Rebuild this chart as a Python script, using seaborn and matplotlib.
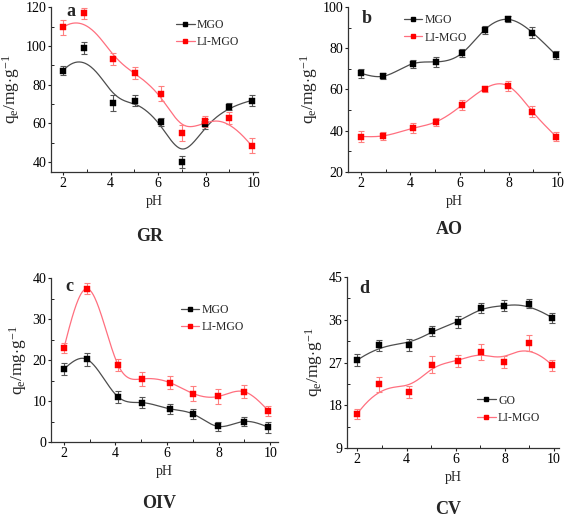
import numpy as np
import pandas as pd
import matplotlib
matplotlib.use("Agg")
import matplotlib.pyplot as plt
import seaborn as sns
from matplotlib.ticker import MultipleLocator
from matplotlib.lines import Line2D

sns.set_style("ticks")
plt.rcParams['font.family'] = ['Liberation Serif', 'DejaVu Serif']
plt.rcParams['mathtext.fontset'] = 'custom'
plt.rcParams['mathtext.rm'] = 'Liberation Serif'
plt.rcParams['mathtext.it'] = 'Liberation Serif:italic'

# ---------------- data ----------------
ph = [2.0, 2.88, 4.1, 5.04, 6.1, 7.02, 7.98, 8.97, 9.93]

gr_mgo = [87.3, 99.0, 70.5, 71.8, 60.6, 40.0, 59.6, 68.7, 71.8]
gr_mgo_err = [2.5, 3.0, 4.0, 3.0, 2.0, 3.0, 2.5, 2.0, 3.0]
gr_li = [109.7, 116.9, 93.2, 85.9, 75.4, 55.0, 61.0, 62.7, 48.4]
gr_li_err = [4.0, 3.0, 3.0, 3.0, 4.0, 4.0, 3.0, 3.0, 4.0]

ao_mgo = [67.8, 66.4, 72.5, 73.4, 77.6, 88.9, 94.0, 87.6, 76.7]
ao_mgo_err = [2.0, 1.5, 2.0, 2.5, 2.0, 2.0, 1.5, 2.5, 2.0]
ao_li = [37.2, 37.5, 41.2, 44.3, 52.4, 60.4, 61.7, 49.3, 37.2]
ao_li_err = [2.5, 2.0, 2.5, 2.0, 2.5, 1.5, 2.5, 2.5, 2.0]

oiv_mgo = [17.8, 20.2, 11.0, 9.6, 8.1, 6.8, 3.8, 5.0, 3.6]
oiv_mgo_err = [1.5, 1.6, 1.4, 1.4, 1.2, 1.3, 1.2, 1.2, 1.3]
oiv_li = [22.9, 37.4, 18.8, 15.4, 14.5, 11.8, 11.1, 12.3, 7.6]
oiv_li_err = [1.2, 1.4, 1.5, 1.7, 1.6, 1.8, 1.9, 1.5, 1.2]

cv_go = [27.5, 30.6, 30.7, 33.6, 35.5, 38.5, 39.0, 39.4, 36.4]
cv_go_err = [1.2, 1.1, 1.3, 1.1, 1.3, 1.0, 1.1, 1.0, 1.0]
cv_li = [16.2, 22.4, 20.8, 26.5, 27.3, 29.2, 27.1, 31.1, 26.4]
cv_li_err = [1.1, 1.6, 1.2, 1.8, 1.2, 1.6, 1.3, 1.6, 1.1]

BLACK = '#000000'
BLACK_LINE = '#4d4d4d'
BLACK_ERR = '#555555'
RED = '#ff0000'
RED_LINE = '#ff6f7f'
RED_ERR = '#ff7f7f'


def bspline(xs, ys, n=300, k=3):
    """Clamped cubic B-spline using the data points as control points."""
    P = np.column_stack([xs, ys]).astype(float)
    m = len(P)
    knots = np.concatenate([np.zeros(k), np.linspace(0, 1, m - k + 1), np.ones(k)])
    t = np.linspace(0, 1, n)
    t[-1] -= 1e-9
    nb = len(knots) - 1
    N = np.zeros((n, nb))
    for i in range(nb):
        N[:, i] = ((knots[i] <= t) & (t < knots[i + 1])).astype(float)
    for d in range(1, k + 1):
        Nn = np.zeros((n, nb - d))
        for i in range(nb - d):
            a = np.zeros(n)
            b = np.zeros(n)
            den1 = knots[i + d] - knots[i]
            den2 = knots[i + d + 1] - knots[i + 1]
            if den1 > 0:
                a = (t - knots[i]) / den1 * N[:, i]
            if den2 > 0:
                b = (knots[i + d + 1] - t) / den2 * N[:, i + 1]
            Nn[:, i] = a + b
        N = Nn
    C = N @ P
    return C[:, 0], C[:, 1]


def cspline(xs, ys, n=300):
    """Natural cubic spline through the data points."""
    x = np.asarray(xs, float)
    y = np.asarray(ys, float)
    m = len(x)
    h = np.diff(x)
    A = np.zeros((m, m))
    r = np.zeros(m)
    A[0, 0] = 1
    A[-1, -1] = 1
    for i in range(1, m - 1):
        A[i, i - 1] = h[i - 1]
        A[i, i] = 2 * (h[i - 1] + h[i])
        A[i, i + 1] = h[i]
        r[i] = 6 * ((y[i + 1] - y[i]) / h[i] - (y[i] - y[i - 1]) / h[i - 1])
    M = np.linalg.solve(A, r)
    xx = np.linspace(x[0], x[-1], n)
    idx = np.clip(np.searchsorted(x, xx) - 1, 0, m - 2)
    x0, x1 = x[idx], x[idx + 1]
    hh = x1 - x0
    a = (x1 - xx) / hh
    b = (xx - x0) / hh
    yy = (a * y[idx] + b * y[idx + 1]
          + ((a ** 3 - a) * M[idx] + (b ** 3 - b) * M[idx + 1]) * hh ** 2 / 6)
    return xx, yy


W, H = 567, 516
fig = plt.figure(figsize=(W / 100, H / 100), dpi=100)


def px_axes(left, top, right, bottom):
    return fig.add_axes([left / W, 1 - bottom / H, (right - left) / W, (bottom - top) / H])


panels = [
    dict(box=(51, 7, 258, 172), xlim=(1.49, 10.2), ylim=(34.8, 120.2), ymaj=20, ymin=10,
         s1=(gr_mgo, gr_mgo_err, 'MGO'), s2=(gr_li, gr_li_err, 'LI-MGO'), curve=bspline,
         leg=(0.58, 0.955), letter='a', lpos=(0.075, 0.975), title='GR', ty=237),
    dict(box=(348, 7, 560, 172), xlim=(1.46, 10.09), ylim=(20, 100), ymaj=20, ymin=10,
         s1=(ao_mgo, ao_mgo_err, 'MGO'), s2=(ao_li, ao_li_err, 'LI-MGO'), curve=cspline,
         leg=(0.24, 0.985), letter='b', lpos=(0.065, 0.93), title='AO', ty=230),
    dict(box=(51, 278, 278, 442), xlim=(1.5, 10.3), ylim=(0, 40), ymaj=10, ymin=5,
         s1=(oiv_mgo, oiv_mgo_err, 'MGO'), s2=(oiv_li, oiv_li_err, 'LI-MGO'), curve=cspline,
         leg=(0.55, 0.87), letter='c', lpos=(0.065, 0.95), title='OIV', ty=503),
    dict(box=(347, 277, 559, 448), xlim=(1.58, 10.2), ylim=(9, 45), ymaj=9, ymin=4.5,
         s1=(cv_go, cv_go_err, 'GO'), s2=(cv_li, cv_li_err, 'LI-MGO'), curve=bspline,
         leg=(0.59, 0.34), letter='d', lpos=(0.06, 0.93), title='CV', ty=509),
]

for p in panels:
    ax = px_axes(*p['box'])
    handles = []
    for (vals, errs, lab), mc, lc, ec in [(p['s1'], BLACK, BLACK_LINE, BLACK_ERR),
                                          (p['s2'], RED, RED_LINE, RED_ERR)]:
        cx, cy = p['curve'](ph, vals)
        sns.lineplot(x=cx, y=cy, ax=ax, color=lc, lw=0.9, sort=False, estimator=None)
        ax.errorbar(ph, vals, yerr=errs, fmt='none', ecolor=ec, elinewidth=0.8,
                    capsize=2, capthick=0.8, zorder=3)
        df = pd.DataFrame({'x': ph, 'y': vals})
        sns.scatterplot(data=df, x='x', y='y', ax=ax, marker='s', s=14, color=mc,
                        edgecolor=mc, linewidth=0.3, zorder=4)
        handles.append(Line2D([], [], color=lc, lw=0.9, marker='s', markersize=3.4,
                              markerfacecolor=mc, markeredgecolor=mc, label=lab))
    ax.set_xlim(*p['xlim'])
    ax.set_ylim(*p['ylim'])
    ax.xaxis.set_major_locator(MultipleLocator(2))
    ax.xaxis.set_minor_locator(MultipleLocator(1))
    ax.yaxis.set_major_locator(MultipleLocator(p['ymaj']))
    ax.yaxis.set_minor_locator(MultipleLocator(p['ymin']))
    ax.tick_params(axis='both', which='major', direction='out', length=2.5, width=0.8,
                   labelsize=10, pad=1, colors='#222222', labelcolor='black')
    ax.tick_params(axis='both', which='minor', direction='in', length=2, width=0.7,
                   colors='#222222')
    sns.despine(ax=ax)
    for s in ['left', 'bottom']:
        ax.spines[s].set_linewidth(0.9)
        ax.spines[s].set_color('#333333')
    ax.set_xlabel('pH', fontsize=10, labelpad=4)
    ax.set_ylabel(r'q$_\mathregular{e}$/mg$\cdot$g$^\mathregular{-1}$', fontsize=12.5,
                  labelpad=2)
    ax.text(*p['lpos'], p['letter'], transform=ax.transAxes, fontsize=13,
            fontweight='bold', va='center', ha='left')
    ax.legend(handles=handles, loc='upper left', bbox_to_anchor=p['leg'],
              frameon=False, fontsize=8.5, handlelength=1.6, handletextpad=0.2,
              labelspacing=0.45, borderaxespad=0.0)
    l, t, r, b = p['box']
    fig.text(((l + r) / 2 - 5) / W, 1 - p['ty'] / H, p['title'], fontsize=13,
             fontweight='bold', ha='center', va='center')

fig.savefig('out.png', dpi=100)
